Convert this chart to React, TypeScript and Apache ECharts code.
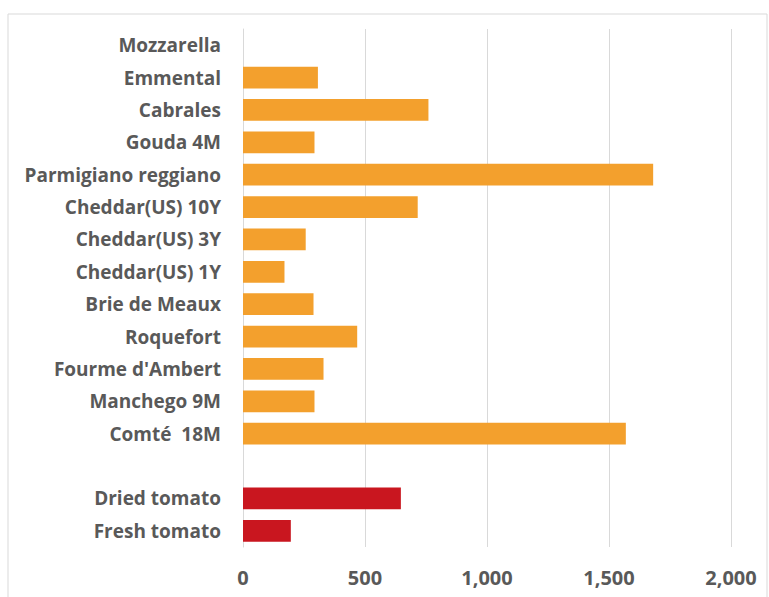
import React, { useEffect, useRef } from "react";
import * as echarts from "echarts";

const categories = [
  "Mozzarella",
  "Emmental",
  "Cabrales",
  "Gouda 4M",
  "Parmigiano reggiano",
  "Cheddar(US) 10Y",
  "Cheddar(US) 3Y",
  "Cheddar(US) 1Y",
  "Brie de Meaux",
  "Roquefort",
  "Fourme d'Ambert",
  "Manchego 9M",
  "Comté  18M",
  "",
  "Dried tomato",
  "Fresh tomato",
];

const values: (number | null)[] = [
  0, 307, 760, 293, 1681, 716, 257, 170, 289, 468, 330, 293, 1569, null, 647, 196,
];

const groups = [
  "cheese", "cheese", "cheese", "cheese", "cheese", "cheese", "cheese", "cheese",
  "cheese", "cheese", "cheese", "cheese", "cheese", "none", "tomato", "tomato",
];

const groupColors: Record<string, string> = {
  cheese: "#F3A02D",
  tomato: "#C9161F",
  none: "#FFFFFF",
};

const xTicks = { min: 0, max: 2000, interval: 500 };

export default function App() {
  const ref = useRef<HTMLDivElement>(null);

  useEffect(() => {
    if (!ref.current) return;
    const chart = echarts.init(ref.current, null, { renderer: "svg" });
    const font = "'Open Sans', 'Liberation Sans', sans-serif";
    chart.setOption({
      animation: false,
      backgroundColor: "#ffffff",
      graphic: [
        {
          type: "rect",
          shape: { x: 8, y: 14, width: 759, height: 640 },
          style: { fill: "none", stroke: "#d9d9d9", lineWidth: 1 },
          silent: true,
        },
      ],
      grid: { left: 243, right: 38, top: 29, bottom: 50, containLabel: false },
      xAxis: {
        type: "value",
        min: xTicks.min,
        max: xTicks.max,
        interval: xTicks.interval,
        axisLine: { show: false },
        axisTick: { show: false },
        splitLine: { show: true, lineStyle: { color: "#d9d9d9", width: 1 } },
        axisLabel: {
          color: "#595959",
          fontFamily: font,
          fontWeight: "bold",
          fontSize: 20,
          margin: 20,
          formatter: (v: number) => v.toLocaleString("en-US"),
        },
      },
      yAxis: {
        type: "category",
        data: categories,
        inverse: true,
        axisLine: { show: true, lineStyle: { color: "#d9d9d9" } },
        axisTick: { show: false },
        splitLine: { show: false },
        axisLabel: {
          color: "#595959",
          fontFamily: font,
          fontWeight: "bold",
          fontSize: 19,
          margin: 22,
        },
      },
      series: [
        {
          type: "bar",
          barCategoryGap: "33%",
          data: values.map((v, i) => ({
            value: v,
            itemStyle: { color: groupColors[groups[i]] },
          })),
        },
      ],
    });
    return () => chart.dispose();
  }, []);

  return (
    <div
      ref={ref}
      style={{ position: "fixed", left: 0, top: 0, width: 769, height: 597 }}
    />
  );
}
